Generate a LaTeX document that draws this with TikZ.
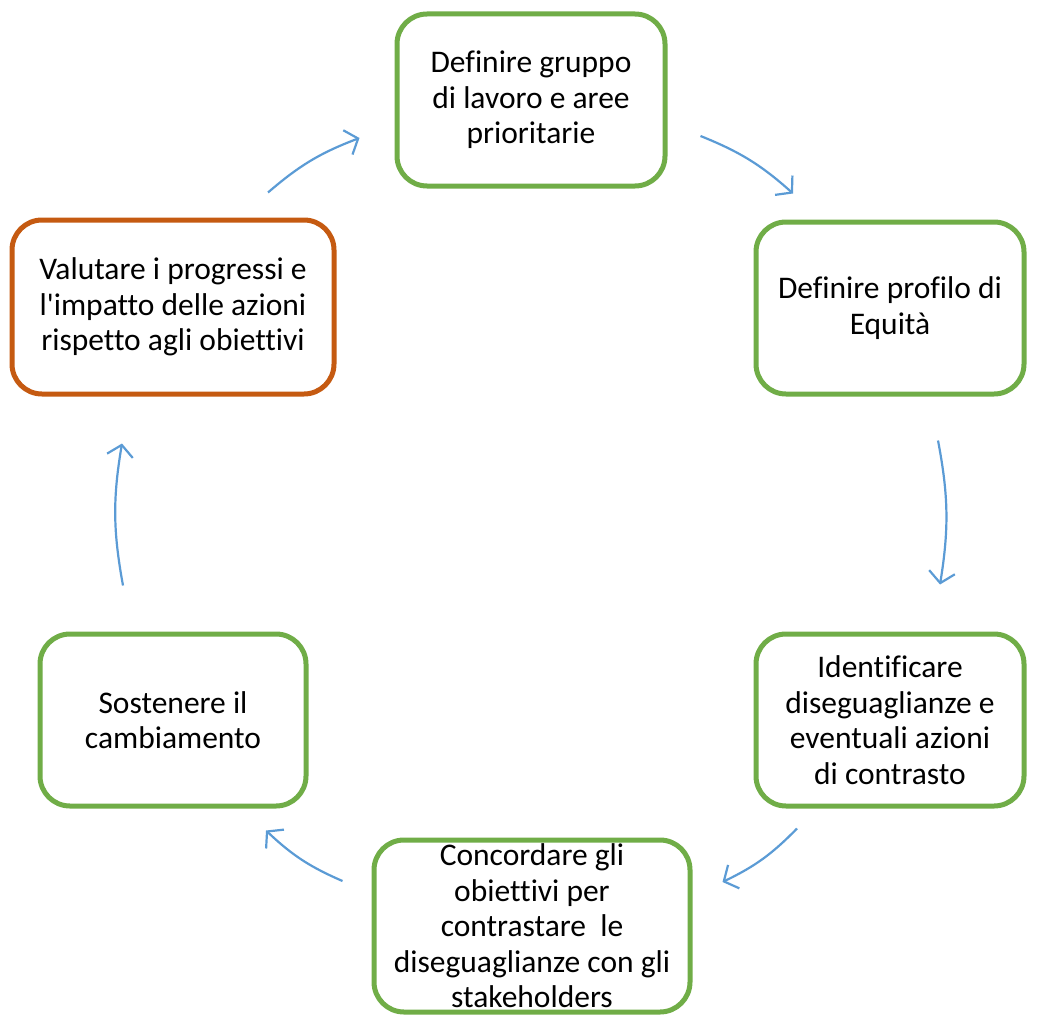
\documentclass[tikz,border=0pt]{standalone}
\usepackage{fontspec}
\setmainfont{Carlito}[Ligatures={NoCommon}]
\usetikzlibrary{arrows.meta,calc}
\definecolor{verde}{HTML}{70AD47}
\definecolor{arancio}{HTML}{C55A11}
\definecolor{blu}{HTML}{5B9BD5}
\begin{document}
\begin{tikzpicture}[x=1pt,y=-1pt,
  fase/.style={draw=verde, line width=5pt, rounded corners=30pt, fill=white,
    align=center, font=\fontsize{31.5}{35.5}\selectfont, minimum height=172pt, inner sep=0pt},
  ciclo/.style={draw=blu, line width=2.2pt, bend left=10,
    -{Straight Barb[length=11pt,width=26pt,line width=2.2pt]}}]
\useasboundingbox (0,0) rectangle (1038,1022);
% Caselle
\node[fase, minimum width=268pt] (gruppo) at (531,100) {Definire gruppo\\di lavoro e aree\\prioritarie};
\node[fase, minimum width=268pt] (profilo) at (890,308) {Definire profilo di\\Equità};
\node[fase, minimum width=268pt] (identificare) at (890,720) {Identificare\\diseguaglianze e\\eventuali azioni\\di contrasto};
\node[fase, minimum width=316pt] (concordare) at (532,926) {Concordare gli\\obiettivi per\\contrastare~ le\\diseguaglianze con gli\\stakeholders};
\node[fase, minimum width=266pt] (sostenere) at (173,720) {Sostenere il\\cambiamento};
\node[fase, draw=arancio, minimum width=322pt, minimum height=174pt] (valutare) at (173,307) {Valutare i progressi e\\l\textquotesingle impatto delle azioni\\rispetto agli obiettivi};
% Frecce
\draw[ciclo] ($(valutare.north)+(95,-25)$) to ($(gruppo.west)+(-35,38)$);
\draw[ciclo] ($(gruppo.east)+(33,36)$) to ($(profilo.north)+(-97,-26)$);
\draw[ciclo] ($(profilo.south)+(48,44)$) to ($(identificare.north)+(50,-47)$);
\draw[ciclo] ($(identificare.south)+(-93,20)$) to ($(concordare.east)+(30,-44)$);
\draw[ciclo] ($(concordare.west)+(-29,-45)$) to ($(sostenere.south)+(93,22)$);
\draw[ciclo] ($(sostenere.north)+(-50,-46)$) to ($(valutare.south)+(-51,47)$);
\end{tikzpicture}
\end{document}
